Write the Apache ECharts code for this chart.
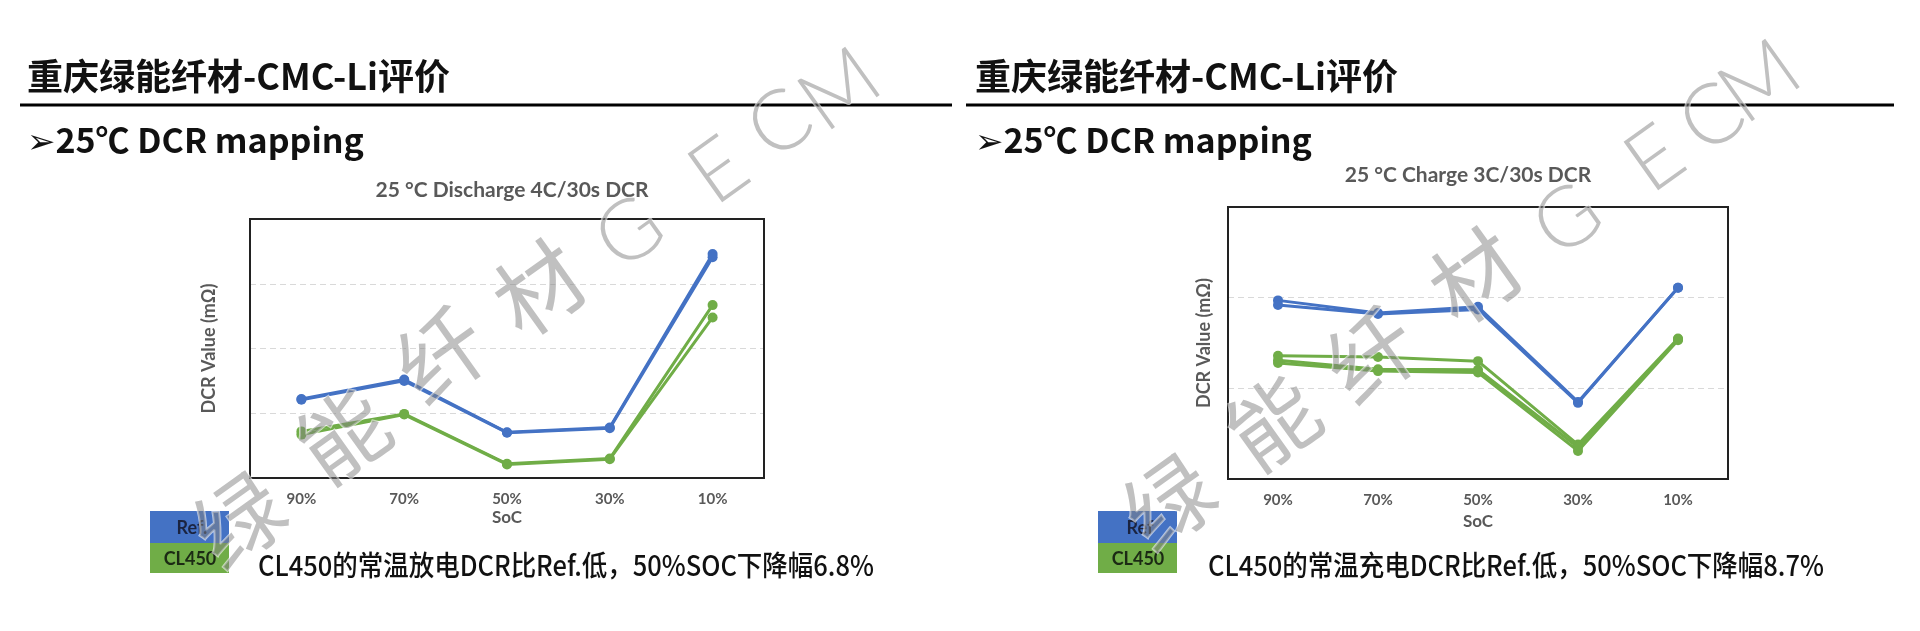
<!DOCTYPE html>
<html>
<head>
<meta charset="utf-8">
<script src="https://cdn.jsdelivr.net/npm/echarts@6/dist/echarts.min.js"></script>
<style>
html,body{margin:0;padding:0;background:#fff;}
#c{width:1920px;height:631px;}
</style>
</head>
<body>
<div id="c"></div>
<script>
// ---- data ----
const categories = ['90%', '70%', '50%', '30%', '10%'];
// Discharge 4C/30s DCR (relative units, axis shows no tick labels)
const dischargeRefA = [1.22, 1.52, 0.705, 0.78, 3.46];
const dischargeRefB = [1.21, 1.50, 0.70, 0.77, 3.41];
const dischargeCLA = [0.72, 0.99, 0.22, 0.30, 2.67];
const dischargeCLB = [0.67, 0.98, 0.21, 0.29, 2.48];
// Charge 3C/30s DCR
const chargeRefA = [1.97, 1.83, 1.90, 0.85, 2.11];
const chargeRefB = [1.92, 1.82, 1.87, 0.84, 2.11];
const chargeCLA = [1.36, 1.345, 1.30, 0.38, 1.55];
const chargeCLB = [1.31, 1.21, 1.205, 0.35, 1.54];
const chargeCLC = [1.28, 1.19, 1.175, 0.31, 1.53];

const headerTitle = '重庆绿能纤材-CMC-Li评价';
const subTitle = '➢25℃ DCR mapping';
const chartTitles = ['25 °C Discharge 4C/30s DCR', '25 °C Charge 3C/30s DCR'];
const notes = ['CL450的常温放电DCR比Ref.低，50%SOC下降幅6.8%', 'CL450的常温充电DCR比Ref.低，50%SOC下降幅8.7%'];
const legendNames = ['Ref.', 'CL450'];
const legendNamesRight = ['Ref', 'CL450'];
const watermarkChars = ['绿', '能', '纤', '材', 'G', 'E', 'C', 'M'];

const BLUE = '#4472C4', GREEN = '#70AD47';
const AX = '#595959';
const chartFont = 'Lato, "Open Sans", sans-serif';
const cjkFont = '"Noto Sans CJK SC", "DejaVu Sans", sans-serif';

const GRIDS = [
  {left: 250, top: 219, width: 514, height: 259},
  {left: 1228, top: 207, width: 500, height: 272}
];

function lineSeries(data, color, idx) {
  return {
    type: 'line', data: data, xAxisIndex: idx, yAxisIndex: idx,
    symbol: 'circle', symbolSize: 10, lineStyle: {color: color, width: 3},
    itemStyle: {color: color}, z: 3, animation: false
  };
}
function xAx(idx, margin, gap) {
  return {
    type: 'category', gridIndex: idx, data: categories, boundaryGap: true,
    axisLine: {show: false}, axisTick: {show: false},
    axisLabel: {color: AX, fontSize: 15, fontWeight: 'bold', fontFamily: chartFont, margin: margin},
    name: 'SoC', nameLocation: 'middle', nameGap: gap,
    nameTextStyle: {color: AX, fontSize: 17, fontWeight: 'bold', fontFamily: chartFont}
  };
}
function yAx(idx, max, gap) {
  return {
    type: 'value', gridIndex: idx, min: 0, max: max, interval: 1,
    axisLine: {show: false}, axisTick: {show: false}, axisLabel: {show: false},
    splitLine: {show: true, lineStyle: {color: '#d9d9d9', type: [6, 4], width: 1}},
    name: 'DCR Value (mΩ)', nameLocation: 'middle', nameRotate: 90, nameGap: gap,
    nameTextStyle: {color: AX, fontSize: 18, fontWeight: 'bold', fontFamily: chartFont}
  };
}

const graphics = [];
// headers for both halves
[[27, 20, 952], [975, 966, 1894]].forEach(([tx, lx1, lx2]) => {
  graphics.push({type: 'text', x: tx, y: 76, style: {text: headerTitle, fontSize: 36, fontWeight: 'bold', fontFamily: cjkFont, fill: '#111', verticalAlign: 'middle'}});
  graphics.push({type: 'line', shape: {x1: lx1, y1: 105, x2: lx2, y2: 105}, style: {stroke: '#000', lineWidth: 3}});
  graphics.push({type: 'text', x: tx, y: 140, style: {text: subTitle, fontSize: 34, fontWeight: 'bold', fontFamily: cjkFont, fill: '#111', verticalAlign: 'middle'}});
});
// plot frames
GRIDS.forEach(g => graphics.push({type: 'rect', z: 50, shape: {x: g.left, y: g.top, width: g.width, height: g.height}, style: {fill: null, stroke: '#222', lineWidth: 2}}));
// chart titles
graphics.push({type: 'text', x: 512, y: 190, style: {text: chartTitles[0], fontSize: 21, fontWeight: 'bold', fontFamily: chartFont, fill: AX, align: 'center', verticalAlign: 'middle'}});
graphics.push({type: 'text', x: 1468, y: 175, style: {text: chartTitles[1], fontSize: 21, fontWeight: 'bold', fontFamily: chartFont, fill: AX, align: 'center', verticalAlign: 'middle'}});
// legend boxes and notes
[[150, legendNames, 258, notes[0]], [1098, legendNamesRight, 1208, notes[1]]].forEach(([lx, names, nx, note]) => {
  graphics.push({type: 'rect', shape: {x: lx, y: 511, width: 79, height: 32}, style: {fill: BLUE}});
  graphics.push({type: 'rect', shape: {x: lx, y: 543, width: 79, height: 30}, style: {fill: GREEN}});
  graphics.push({type: 'text', x: lx + 42, y: 528, style: {text: names[0], fontSize: 18, fontWeight: 'bold', fontFamily: chartFont, fill: '#1b2440', align: 'center', verticalAlign: 'middle'}});
  graphics.push({type: 'text', x: lx + 40, y: 559, style: {text: names[1], fontSize: 18, fontWeight: 'bold', fontFamily: chartFont, fill: '#1b2a14', align: 'center', verticalAlign: 'middle'}});
  graphics.push({type: 'text', x: nx, y: 565, scaleX: 0.91, style: {text: note, fontSize: 28, fontWeight: 500, fontFamily: cjkFont, fill: '#111', verticalAlign: 'middle'}});
});
// watermark
const wmPos = [
  [[239,520],[343,435],[441,355],[539,288],[630,233],[719,171],[780,124],[840,90]],
  [[1169,502],[1273,422],[1371,355],[1475,276],[1568,220],[1655,159],[1712,118],[1760,82]]
];
wmPos.forEach(ps => ps.forEach((p, k) => {
  graphics.push({type: 'text', x: p[0], y: p[1], rotation: 0.62, z: 100,
    style: {text: watermarkChars[k], fontSize: k < 4 ? 88 : 84, fontWeight: k < 4 ? 'normal' : 300,
      fontFamily: k < 4 ? cjkFont : 'Lato, sans-serif',
      fill: 'rgba(130,130,130,0.5)', align: 'center', verticalAlign: 'middle',
      stroke: 'rgba(255,255,255,0.6)', lineWidth: 2}});
}));

const chart = echarts.init(document.getElementById('c'), null, {renderer: 'canvas'});
chart.setOption({
  backgroundColor: '#fff',
  animation: false,
  grid: GRIDS.map(g => Object.assign({show: true, borderWidth: 0, backgroundColor: '#fff'}, g)),
  xAxis: [xAx(0, 13.5, 31.5), xAx(1, 13.5, 34.5)],
  yAxis: [yAx(0, 4, 32), yAx(1, 3, 14.5)],
  series: [
    lineSeries(dischargeRefA, BLUE, 0), lineSeries(dischargeRefB, BLUE, 0),
    lineSeries(dischargeCLA, GREEN, 0), lineSeries(dischargeCLB, GREEN, 0),
    lineSeries(chargeRefA, BLUE, 1), lineSeries(chargeRefB, BLUE, 1),
    lineSeries(chargeCLA, GREEN, 1), lineSeries(chargeCLB, GREEN, 1), lineSeries(chargeCLC, GREEN, 1)
  ],
  graphic: graphics
});
</script>
</body>
</html>
